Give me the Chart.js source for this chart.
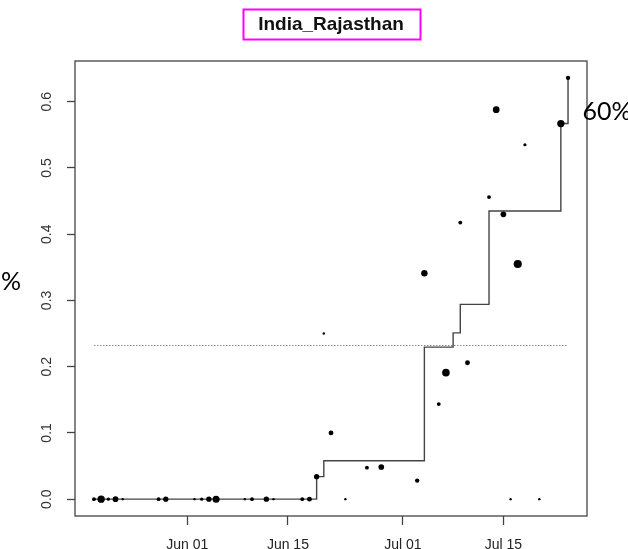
<!DOCTYPE html>
<html>
<head>
<meta charset="utf-8">
<title>India_Rajasthan</title>
<script src="https://cdn.jsdelivr.net/npm/chart.js@4.4.1/dist/chart.umd.min.js"></script>
<style>
  html, body { margin: 0; padding: 0; background: #fff; }
  #wrap { width: 628px; height: 549px; }
</style>
</head>
<body>
<div id="wrap"><canvas id="chart" width="628" height="549"></canvas></div>
<script>
// observed share per reporting date, circle area ~ sample weight
const obsDates = [
  "2021-05-19", "2021-05-20", "2021-05-21", "2021-05-22", "2021-05-23",
  "2021-05-28", "2021-05-29", "2021-06-02", "2021-06-03", "2021-06-04",
  "2021-06-05", "2021-06-09", "2021-06-10", "2021-06-12", "2021-06-13",
  "2021-06-17", "2021-06-18", "2021-06-19", "2021-06-20", "2021-06-21",
  "2021-06-23", "2021-06-26", "2021-06-28", "2021-07-03", "2021-07-04",
  "2021-07-06", "2021-07-07", "2021-07-09", "2021-07-10", "2021-07-13",
  "2021-07-14", "2021-07-15", "2021-07-16", "2021-07-17", "2021-07-18",
  "2021-07-20", "2021-07-23", "2021-07-24"
];
const obsShare = [
  0, 0, 0, 0, 0,
  0, 0, 0, 0, 0,
  0, 0, 0, 0, 0,
  0, 0, 0.034, 0.25, 0.10,
  0, 0.0475, 0.0485, 0.028, 0.341,
  0.1435, 0.191, 0.4175, 0.206, 0.456,
  0.588, 0.430, 0, 0.355, 0.535,
  0, 0.567, 0.636
];
const obsWeight = [
  3, 12, 2, 7, 1,
  3, 6, 1, 2, 6,
  11, 1, 3, 6, 1,
  3, 5, 6, 1, 5,
  1, 3, 7, 4, 9,
  3, 13, 3, 5, 3,
  10, 7, 1, 15, 2,
  1, 12, 4
];

// monotone fit: dates where the level changes, and the level from then on
const fitDates = [
  "2021-05-19", "2021-06-19", "2021-06-20", "2021-07-04", "2021-07-08",
  "2021-07-09", "2021-07-13", "2021-07-23", "2021-07-24"
];
const fitShare = [0, 0.034, 0.058, 0.2295, 0.251, 0.294, 0.435, 0.567, 0.636];

// overall share (dotted reference line)
const overallShare = 0.232;

const xTickDates = ["2021-06-01", "2021-06-15", "2021-07-01", "2021-07-15"];
const xTickLabels = ["Jun 01", "Jun 15", "Jul 01", "Jul 15"];
const yTicks = [0, 0.1, 0.2, 0.3, 0.4, 0.5, 0.6];

const DAY0 = Date.parse("2021-06-01");
const dayOf = s => (Date.parse(s) - DAY0) / 86400000;

const obsDays = obsDates.map(dayOf);
const fitDays = fitDates.map(dayOf);
const xTickDays = xTickDates.map(dayOf);

// R-style axis range: data range padded by 4% each side
function pad(vals) {
  const lo = Math.min(...vals), hi = Math.max(...vals);
  const d = (hi - lo) * 0.04;
  return [lo - d, hi + d];
}
const [xMin, xMax] = pad(obsDays);
const [yMin, yMax] = pad(obsShare);

const firstDay = Math.min(...obsDays), lastDay = Math.max(...obsDays);

const INK = "#444";
const dotRadius = w => 0.2 + Math.sqrt(w);

// frame, title box and the stray side labels
const decor = {
  id: "decor",
  afterDraw(chart) {
    const { ctx, chartArea: a } = chart;
    ctx.save();
    ctx.strokeStyle = INK;
    ctx.lineWidth = 1.3;
    ctx.strokeRect(a.left, a.top, a.right - a.left, a.bottom - a.top);

    const cx = (a.left + a.right) / 2;
    ctx.font = "bold 19px 'Liberation Sans', Arial, sans-serif";
    ctx.fillStyle = "#111";
    ctx.textAlign = "center";
    ctx.textBaseline = "alphabetic";
    ctx.fillText("India_Rajasthan", cx, 30);
    ctx.strokeStyle = "#ff00ff";
    ctx.lineWidth = 2;
    ctx.strokeRect(243.5, 9.5, 177, 30);

    ctx.font = "25px Lato, 'Noto Sans', sans-serif";
    ctx.fillStyle = "#000";
    ctx.textAlign = "left";
    ctx.fillText("60%", 582.5, 119.5);
    ctx.fillText("%", 1, 290);
    ctx.restore();
  }
};

new Chart(document.getElementById("chart"), {
  type: "scatter",
  data: {
    datasets: [
      {
        label: "observed",
        data: obsDays.map((d, i) => ({ x: d, y: obsShare[i] })),
        backgroundColor: "#000",
        borderWidth: 0,
        pointRadius: obsWeight.map(dotRadius),
        pointHoverRadius: obsWeight.map(dotRadius)
      },
      {
        type: "line",
        label: "fit",
        data: fitDays.map((d, i) => ({ x: d, y: fitShare[i] })),
        stepped: true,
        borderColor: INK,
        borderWidth: 1.4,
        pointRadius: 0,
        fill: false
      },
      {
        type: "line",
        label: "overall",
        data: [{ x: firstDay, y: overallShare }, { x: lastDay, y: overallShare }],
        borderColor: "#888",
        borderWidth: 1,
        borderDash: [1.5, 1.5],
        pointRadius: 0,
        fill: false
      }
    ]
  },
  options: {
    responsive: false,
    animation: false,
    layout: { padding: { top: 61, right: 41, left: 0, bottom: 0 } },
    plugins: {
      legend: { display: false },
      tooltip: { enabled: false },
      title: { display: false }
    },
    scales: {
      x: {
        type: "linear",
        min: xMin,
        max: xMax,
        afterBuildTicks: s => { s.ticks = xTickDays.map(v => ({ value: v })); },
        afterFit: s => { s.height = 33; },
        grid: { drawOnChartArea: false, drawTicks: true, tickLength: 9, tickColor: INK, tickWidth: 1.3 },
        border: { display: false },
        ticks: {
          padding: 12,
          maxRotation: 0,
          autoSkip: false,
          color: "#222",
          font: { family: "'Liberation Sans', Arial, sans-serif", size: 14 },
          callback: v => xTickLabels[xTickDays.indexOf(v)]
        }
      },
      y: {
        type: "linear",
        min: yMin,
        max: yMax,
        afterBuildTicks: s => { s.ticks = yTicks.map(v => ({ value: v })); },
        afterFit: s => { s.width = 75; },
        grid: { drawOnChartArea: false, drawTicks: true, tickLength: 8, tickColor: INK, tickWidth: 1.3 },
        border: { display: false },
        ticks: {
          padding: 10,
          minRotation: 90,
          maxRotation: 90,
          crossAlign: "center",
          autoSkip: false,
          color: "#333",
          font: { family: "'Liberation Sans', Arial, sans-serif", size: 14 },
          callback: v => v.toFixed(1)
        }
      }
    }
  },
  plugins: [decor]
});
</script>
</body>
</html>
